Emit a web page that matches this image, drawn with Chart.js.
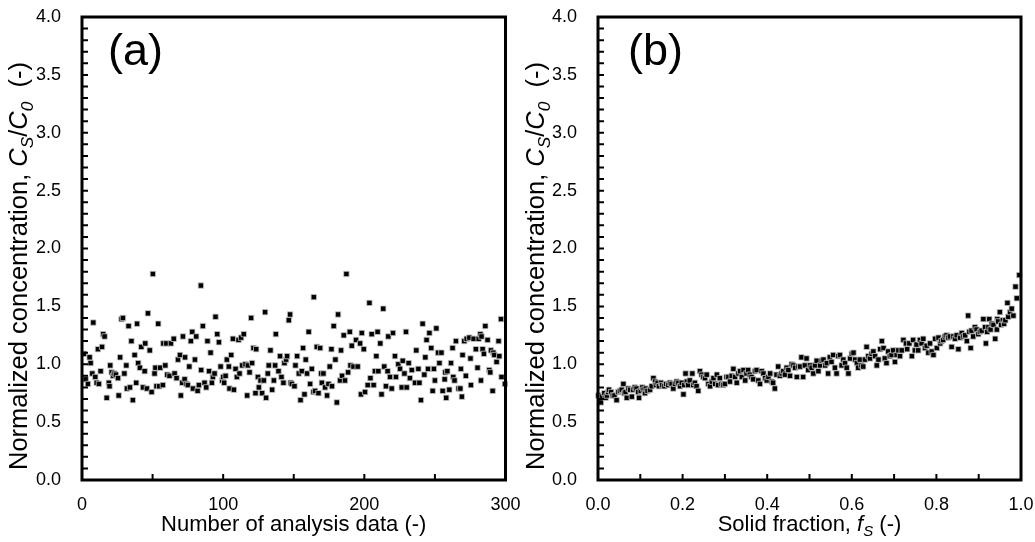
<!DOCTYPE html>
<html><head><meta charset="utf-8">
<script src="https://cdn.jsdelivr.net/npm/chart.js@4.4.0/dist/chart.umd.min.js"></script>
<style>
html,body{margin:0;padding:0;background:#fff;}
#wrap{position:relative;width:1035px;height:542px;overflow:hidden;background:#fff;}
canvas{position:absolute;top:0;}
#ca{left:0;} #cb{left:517px;}
</style></head><body>
<div id="wrap"><canvas id="ca" width="530" height="542"></canvas><canvas id="cb" width="518" height="542"></canvas></div>
<script>
// ---- Panel (a): concentration vs analysis-data number ----
const aIndex = [1.4,2.6,4.2,5.4,6.1,7.3,8,9.4,10.4,11.3,12,13.2,14.2,15,16,17.5,19,19.5,20,21,22,23,24,25.5,26,27,28,29,30,31.4,31.8,33,34,35,36,37.3,38.4,39,39.8,41,42,43.2,44.4,44.8,46,46.7,48,49.3,50.2,51.4,52,52.8,54,54.7,55.4,57.3,57.6,59,59.7,60.4,62,63,65,65.6,67,68,69.4,70,71,71.5,72.7,73,74,
75,76,77.1,78.1,78.6,80,80.9,81.9,82.8,84.2,84.4,85.6,86.8,88,88.9,90,91.1,92,92.7,93.9,94.6,95.8,97,98.2,99.3,100,100.7,101.7,102.6,104,104.5,105.7,106.9,107.6,108.8,109.7,110.9,111.6,112.7,113.5,114.6,115.8,117,117.5,118.7,119.8,120.5,121.5,122.9,123.4,124.6,125.3,126.5,127.6,128.8,129.7,130.4,131.6,132.3,133.5,134.7,135.9,136.8,137.3,139.2,140.3,141.3,142.7,143.4,144.6,145.3,146.5,147.4,147.8,
148.6,150.5,151.2,152.4,153.6,154.8,155.7,156.6,157.6,158.5,159.4,160.6,161.6,162.8,164,164.2,165.1,166.3,167.5,168.7,169.4,169.9,171,172.2,173.6,174.6,175.5,176.7,177.1,178.3,179.5,180.5,181.4,182.8,183.5,184.2,185.4,186.3,187.3,188.5,189.7,190.2,191.1,192.3,194.1,195.3,197,197.6,198.2,199.6,200.5,202.4,203.6,204.3,205.2,206.6,207.5,208.5,209.4,209.9,211.3,212.2,213.4,214.1,215.3,216.5,217,218.2,219.4,220.3,221.7,222.4,
224.1,225.3,226.5,227.2,228.4,229.5,230,231.4,232.3,233.6,235.9,236.8,238.3,239,240.1,241.3,242.5,243.2,244.1,245.1,246.1,247.4,248.4,249.3,250,251,252.2,253.2,254.6,255.5,256.9,257.4,258,258.8,260.2,261.4,262.5,263,263.9,264.9,266.8,268,268.4,269.1,269.6,270.8,271.9,272.5,274.4,275.2,275.5,277.4,279,280.2,281,282.2,282.6,283,283.8,284.7,285.7,287.3,288.5,289.2,289.7,290.9,291.4,292.1,293.7,295.1,295.6,296.8,297.2,299.6];
const aConc = [1.09,0.87,0.83,1.06,1.01,0.92,1.36,0.89,0.84,1.13,0.83,0.94,1.15,1.26,1.24,0.71,0.84,0.81,0.99,0.93,0.90,0.92,0.91,0.88,0.73,1.06,1.39,1.40,0.92,0.99,0.79,1.33,0.80,1.20,0.69,1.08,0.84,1.35,1.01,0.97,1.15,0.80,0.94,1.18,0.79,1.44,1.12,0.76,1.78,0.92,0.97,0.81,1.35,0.81,0.97,0.82,1.18,0.99,1.18,0.91,0.90,1.18,1.22,0.92,0.88,1.04,1.08,0.73,0.84,1.24,0.87,1.06,0.83,
0.82,0.98,1.20,1.28,0.79,1.04,1.24,0.77,0.82,1.68,0.95,1.33,0.84,0.80,1.20,0.94,1.10,0.84,0.89,0.92,1.41,1.26,1.19,0.98,0.86,0.89,0.84,0.90,1.04,0.98,0.79,1.08,1.22,0.78,0.96,0.89,1.21,0.92,1.23,0.99,1.26,1.00,0.73,0.99,0.93,1.40,1.01,1.14,0.75,1.13,0.89,0.80,0.86,0.75,0.86,1.45,0.71,0.92,0.99,1.12,0.78,0.86,0.99,1.26,0.94,1.07,0.89,0.84,1.01,1.04,1.07,1.38,1.43,0.84,
0.83,0.81,0.99,1.07,0.92,0.69,0.94,1.14,0.74,1.04,0.92,1.28,0.83,0.96,0.76,1.58,0.77,1.15,0.75,1.14,0.92,0.84,0.92,0.80,0.73,0.83,0.98,1.13,0.81,1.33,1.04,0.67,1.43,0.86,1.12,0.90,1.25,0.86,1.78,0.93,1.28,0.99,1.16,0.98,1.21,0.98,1.18,0.74,1.27,1.13,0.76,0.82,1.53,0.88,1.26,0.82,0.94,1.07,1.28,0.94,1.18,0.74,1.48,0.98,0.81,0.94,1.24,0.89,0.79,1.27,1.07,0.89,
1.00,0.96,0.80,1.03,0.92,1.28,0.80,1.01,0.88,0.95,0.84,1.12,0.96,0.84,0.69,1.35,0.91,1.06,1.21,0.96,1.27,1.14,0.77,0.96,0.86,1.31,1.10,1.01,1.10,0.77,0.87,0.93,0.71,0.94,0.78,1.01,1.14,0.89,0.86,1.20,0.79,0.79,0.96,0.72,1.08,1.20,0.90,1.22,1.23,1.05,0.82,1.22,1.13,0.97,1.22,1.26,0.86,1.24,1.13,1.09,1.33,1.21,0.95,0.93,1.12,0.77,1.10,1.08,1.02,1.20,1.07,1.39,0.89,0.83];

// ---- Panel (b): concentration vs solid fraction ----
const solidFraction = [0.001,0.005,0.007,0.010,0.015,0.018,0.021,0.024,0.026,0.031,0.035,0.039,0.044,0.048,0.052,0.056,0.060,0.062,0.065,0.068,0.072,0.076,0.080,0.083,0.087,0.091,0.095,0.097,0.101,0.105,0.108,0.111,0.113,0.117,0.123,0.127,0.131,0.135,0.137,0.141,0.144,0.149,0.152,0.157,0.161,0.166,0.170,0.174,0.178,0.182,0.186,0.190,0.194,0.198,0.202,0.204,0.207,0.210,0.213,0.217,0.223,0.225,
0.229,0.233,0.237,0.241,0.245,0.249,0.253,0.257,0.261,0.265,0.269,0.273,0.277,0.281,0.284,0.288,0.292,0.296,0.300,0.304,0.308,0.312,0.316,0.320,0.324,0.328,0.332,0.336,0.340,0.344,0.348,0.351,0.355,0.359,0.363,0.367,0.371,0.375,0.379,0.383,0.387,0.391,0.395,0.399,0.403,0.407,0.411,0.414,0.418,0.422,0.426,0.430,0.434,0.438,0.442,0.446,0.450,0.454,0.458,0.462,0.466,0.470,0.474,
0.478,0.481,0.485,0.489,0.493,0.497,0.501,0.505,0.509,0.513,0.517,0.521,0.525,0.529,0.533,0.537,0.541,0.544,0.548,0.552,0.556,0.560,0.564,0.568,0.572,0.576,0.580,0.584,0.588,0.592,0.596,0.600,0.604,0.608,0.612,0.615,0.619,0.623,0.627,0.631,0.635,0.639,0.643,0.647,0.651,0.655,0.659,0.663,0.667,0.671,0.675,0.678,0.682,0.686,0.690,0.694,0.698,0.702,0.706,0.710,0.714,0.718,0.722,
0.728,0.731,0.736,0.742,0.745,0.749,0.753,0.757,0.761,0.765,0.769,0.773,0.777,0.781,0.785,0.789,0.793,0.797,0.801,0.805,0.809,0.812,0.816,0.820,0.824,0.828,0.832,0.836,0.840,0.844,0.848,0.852,0.856,0.860,0.864,0.868,0.872,0.875,0.878,0.881,0.883,0.887,0.891,0.895,0.899,0.903,0.907,0.911,0.915,0.917,0.920,0.923,0.925,0.928,0.931,0.935,0.939,0.943,0.944,0.946,0.950,0.953,0.957,0.960,0.963,0.968,0.970,0.974,0.978,0.982,0.987,0.990,0.996];
const bConc = [0.73,0.69,0.67,0.72,0.75,0.71,0.73,0.76,0.78,0.76,0.73,0.73,0.69,0.76,0.77,0.78,0.83,0.75,0.76,0.71,0.79,0.78,0.72,0.78,0.80,0.79,0.76,0.71,0.77,0.80,0.78,0.75,0.79,0.77,0.78,0.81,0.88,0.85,0.82,0.84,0.81,0.84,0.82,0.81,0.83,0.82,0.84,0.83,0.79,0.83,0.85,0.84,0.81,0.84,0.74,0.82,0.92,0.85,0.82,0.86,0.92,0.82,
0.84,0.81,0.77,0.94,0.91,0.89,0.88,0.91,0.83,0.81,0.85,0.88,0.83,0.91,0.82,0.88,0.83,0.82,0.83,0.89,0.89,0.85,0.90,0.96,0.89,0.84,0.92,0.94,0.89,0.95,0.86,0.92,0.95,0.91,0.89,0.87,0.94,0.95,0.86,0.83,0.94,0.92,0.88,0.86,0.89,0.92,0.85,0.84,0.79,0.91,0.98,0.90,0.92,0.94,0.91,0.97,0.95,0.90,1.00,0.99,0.97,0.89,0.98,
0.98,1.06,0.89,0.99,1.05,0.95,0.99,0.97,0.92,0.99,1.03,0.94,0.99,1.03,1.04,0.99,1.01,0.92,1.06,1.02,1.08,0.97,0.92,1.07,1.08,0.99,1.04,1.01,0.97,0.92,1.05,1.09,1.10,1.04,1.01,0.97,1.04,0.99,0.98,1.04,1.15,1.07,1.05,1.09,1.11,1.07,0.99,1.04,1.13,1.20,1.14,1.05,1.01,1.11,1.07,1.08,1.12,1.02,1.08,1.12,1.07,1.12,1.21,
1.18,1.13,1.18,1.07,1.21,1.12,1.17,1.12,1.21,1.18,1.22,1.14,1.16,1.10,1.18,1.11,1.08,1.22,1.14,1.23,1.18,1.20,1.21,1.24,1.25,1.23,1.24,1.15,1.24,1.22,1.25,1.13,1.23,1.27,1.24,1.25,1.20,1.42,1.28,1.14,1.29,1.24,1.32,1.30,1.26,1.28,1.29,1.39,1.32,1.18,1.28,1.32,1.39,1.30,1.35,1.34,1.22,1.30,1.39,1.37,1.45,1.34,1.38,1.35,1.38,1.53,1.41,1.45,1.48,1.42,1.67,1.57,1.77];

// ---- axis ranges / tick steps / labels ----
const yRange = [0, 4], yStep = 0.1, yLabelEvery = 5;      // labels 0.0 ... 4.0 every 0.5
const aXRange = [0, 300], aXStep = 50, aXLabelEvery = 2;  // labels 0,100,200,300
const bXRange = [0, 1], bXStep = 0.1, bXLabelEvery = 2;   // labels 0.0 ... 1.0 every 0.2
const panelLabels = ['(a)', '(b)'];
const yTitle = [{t:'Normalized concentration, '},{t:'C',it:1},{t:'S',it:1,sub:1},{t:'/'},{t:'C',it:1},{t:'0',it:1,sub:1},{t:'  (-)'}];
const aXTitle = [{t:'Number of analysis data (-)'}];
const bXTitle = [{t:'Solid fraction, '},{t:'f',it:1},{t:'S',it:1,sub:1},{t:' (-)'}];

const FONT = '"Liberation Sans", Arial, sans-serif';

function drawSegs(ctx, segs, cx, cy, rot, size){
  ctx.save(); ctx.translate(cx, cy); ctx.rotate(rot);
  ctx.textBaseline = 'alphabetic'; ctx.textAlign = 'left'; ctx.fillStyle = '#000';
  const fontFor = s => (s.it ? 'italic ' : '') + (size * (s.sub ? 0.68 : 1)).toFixed(1) + 'px ' + FONT;
  let w = 0;
  segs.forEach(s => { ctx.font = fontFor(s); s._w = ctx.measureText(s.t).width; w += s._w; });
  let x = -w / 2;
  segs.forEach(s => { ctx.font = fontFor(s); ctx.fillText(s.t, x, s.sub ? size * 0.24 : 0); x += s._w; });
  ctx.restore();
}

const deco = {
  id: 'deco',
  afterDraw(chart, args, o){
    const ctx = chart.ctx, ca = chart.chartArea, xs = chart.scales.x, ys = chart.scales.y;
    ctx.save();
    ctx.strokeStyle = '#000'; ctx.lineWidth = 2;
    ctx.beginPath();
    ys.ticks.forEach(t => { const p = ys.getPixelForValue(t.value); ctx.moveTo(ca.left, p); ctx.lineTo(ca.left + 6, p); });
    xs.ticks.forEach(t => { const p = xs.getPixelForValue(t.value); ctx.moveTo(p, ca.bottom); ctx.lineTo(p, ca.bottom - 6); });
    ctx.stroke();
    ctx.lineWidth = 3;
    ctx.strokeRect(ca.left, ca.top, ca.right - ca.left, ca.bottom - ca.top);
    ctx.fillStyle = '#000'; ctx.font = '45px ' + FONT; ctx.textBaseline = 'alphabetic'; ctx.textAlign = 'left';
    ctx.fillText(o.label, o.labelX, o.labelY);
    drawSegs(ctx, o.xTitle, (ca.left + ca.right) / 2 + (o.xTitleDx || 0), o.xTitleY, 0, o.xTitleSize);
    drawSegs(ctx, o.yTitle, o.yTitleX, o.yTitleY, -Math.PI / 2, o.yTitleSize);
    ctx.restore();
  }
};

function makeChart(id, xs, ys, xRange, xStep, xLabelEvery, xDecimals, padRight, yAxisW, decoOpts){
  const pts = xs.map((x, i) => ({x: x, y: ys[i]}));
  return new Chart(document.getElementById(id), {
    type: 'scatter',
    data: { datasets: [{ data: pts, pointStyle: 'rect', pointRadius: 3.8, pointHoverRadius: 3.8,
      backgroundColor: '#000', borderColor: '#c8c8c8', borderWidth: 0.8, clip: false }] },
    options: {
      responsive: false, animation: false, events: [],
      layout: { padding: { top: 17, right: padRight, left: 0, bottom: 0 } },
      plugins: { legend: {display: false}, tooltip: {enabled: false}, deco: decoOpts },
      scales: {
        x: { type: 'linear', min: xRange[0], max: xRange[1],
          grid: {display: false, drawTicks: false}, border: {display: false},
          ticks: { stepSize: xStep, autoSkip: false, maxRotation: 0, padding: 14, color: '#000',
            font: {family: FONT, size: 18},
            callback: v => { const k = Math.round(v / xStep); return k % xLabelEvery === 0 ? v.toFixed(xDecimals) : ''; } },
          afterFit: s => { s.height = 62; s.paddingLeft = 0; s.paddingRight = 0; } },
        y: { type: 'linear', min: yRange[0], max: yRange[1],
          grid: {display: false, drawTicks: false}, border: {display: false},
          ticks: { stepSize: yStep, autoSkip: false, padding: 21, color: '#000',
            font: {family: FONT, size: 18},
            callback: v => { const k = Math.round(v / yStep); return k % yLabelEvery === 0 ? v.toFixed(1) : ''; } },
          afterFit: s => { s.width = yAxisW; s.paddingTop = 0; s.paddingBottom = 0; } }
      }
    },
    plugins: [deco]
  });
}

makeChart('ca', aIndex, aConc, aXRange, aXStep, aXLabelEvery, 0, 24.5, 82,
  { label: panelLabels[0], labelX: 108, labelY: 65, xTitle: aXTitle, xTitleY: 531, xTitleSize: 22,
    yTitle: yTitle, yTitleX: 27, yTitleY: 266, yTitleSize: 25.5 });
makeChart('cb', solidFraction, bConc, bXRange, bXStep, bXLabelEvery, 1, 14, 81,
  { label: panelLabels[1], labelX: 111, labelY: 65, xTitle: bXTitle, xTitleY: 531, xTitleSize: 22,
    yTitle: yTitle, yTitleX: 27, yTitleY: 266, yTitleSize: 25.5 });
</script>
</body></html>
